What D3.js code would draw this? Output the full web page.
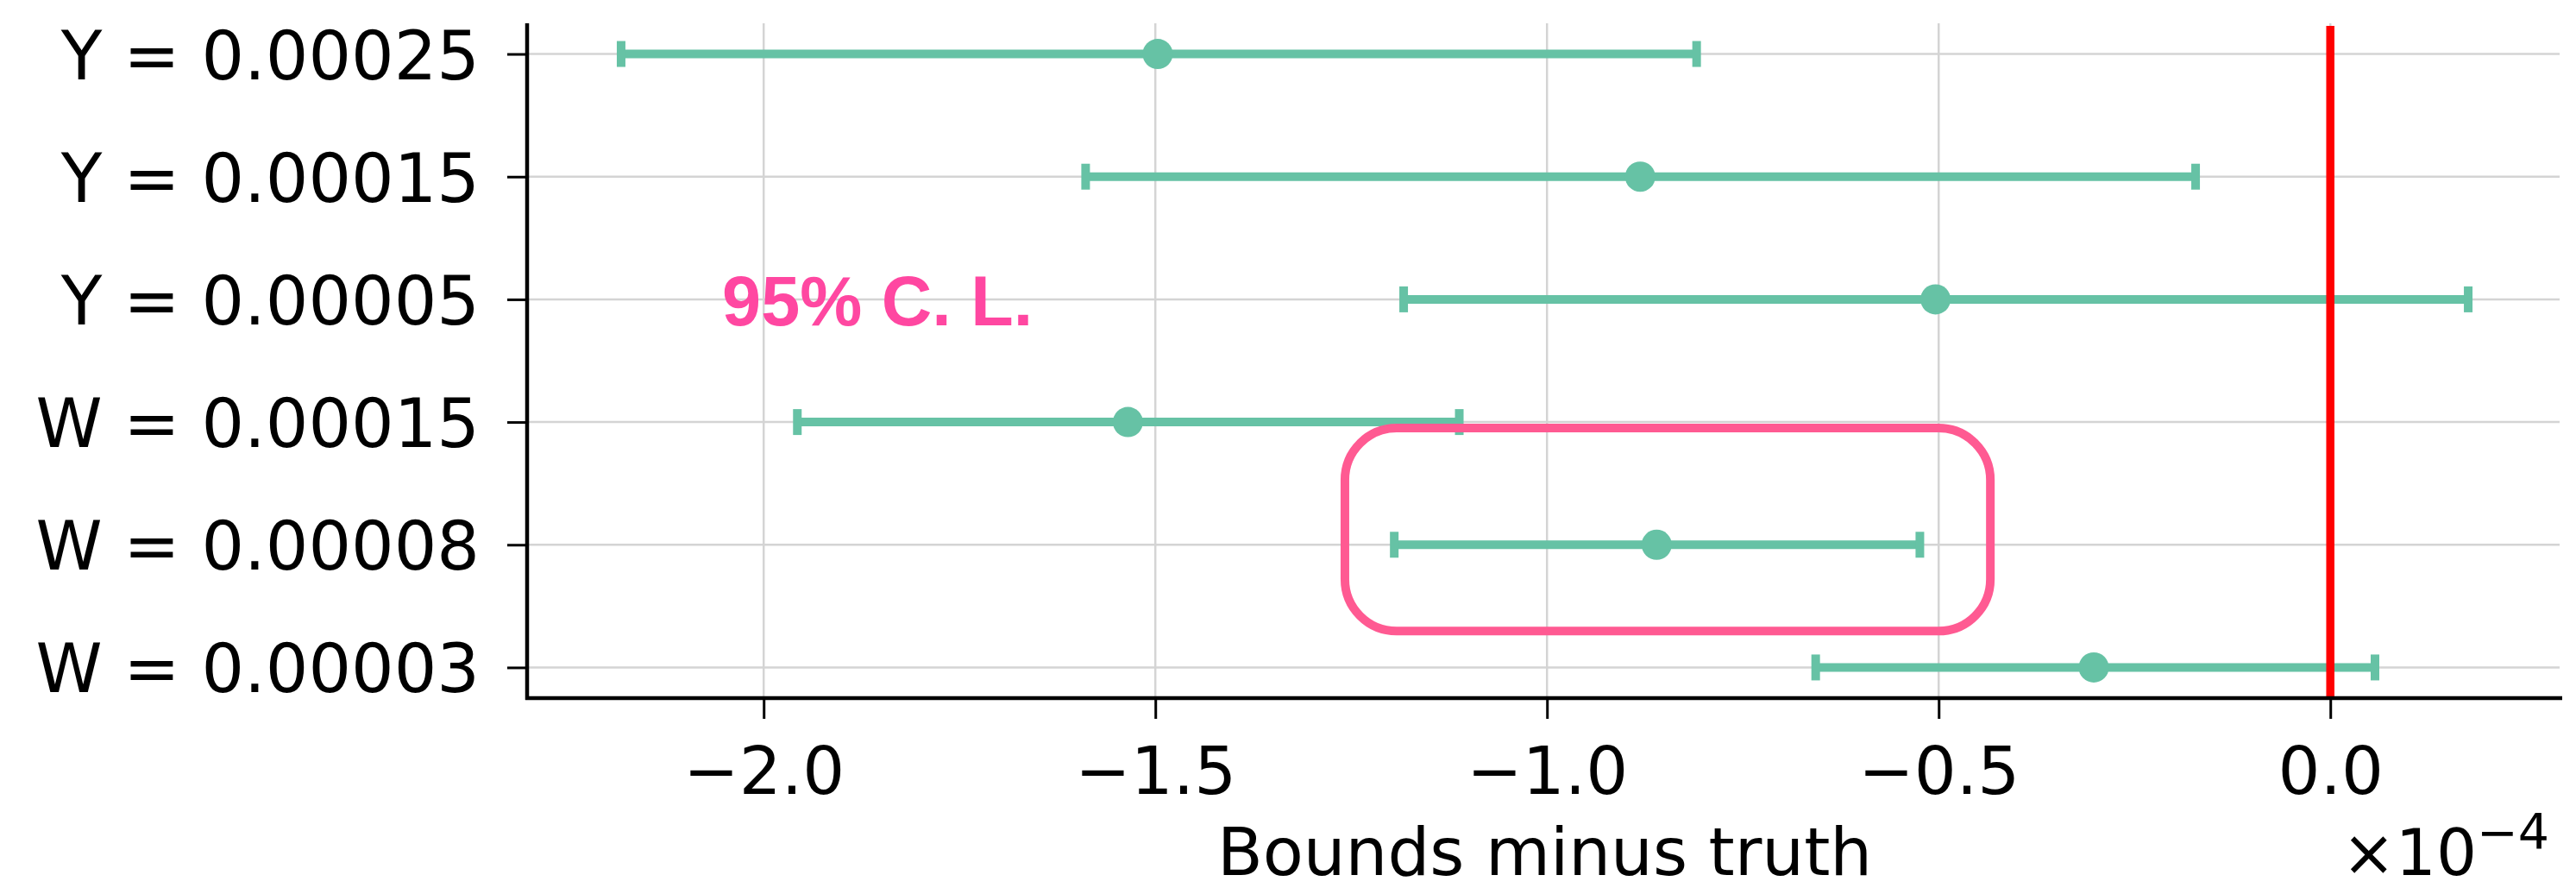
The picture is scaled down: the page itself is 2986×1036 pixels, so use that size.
<!DOCTYPE html>
<html>
<head>
<meta charset="utf-8">
<script src="https://cdn.jsdelivr.net/npm/d3@7"></script>
<style>
  html, body { margin: 0; padding: 0; background: #fff; }
  svg { display: block; }
</style>
</head>
<body>
<svg id="chart" width="2986" height="1036"></svg>
<script>
// ---- data (units of 1e-4) ----
const categories = ["Y = 0.00025", "Y = 0.00015", "Y = 0.00005", "W = 0.00015", "W = 0.00008", "W = 0.00003"];
const lowerBounds = [-2.182, -1.589, -1.183, -1.957, -1.195, -0.657];
const centers     = [-1.497, -0.881, -0.504, -1.535, -0.860, -0.302];
const upperBounds = [-0.809, -0.172,  0.176, -1.112, -0.524,  0.057];
const xTicks = [-2.0, -1.5, -1.0, -0.5, 0.0];
const truthValue = 0.0;
const xLabel = "Bounds minus truth";
const annotationText = "95% C. L.";

(function () {
// ---- layout ----
const svg = d3.select("#chart");
const pLeft = 611, pRight = 2970, pTop = 27, pBottom = 809;
const teal = "#66c2a5";

const x = d3.scaleLinear().domain([-2.302, 0.296]).range([pLeft, pRight]);
const y = d3.scalePoint().domain(categories).range([pTop, pBottom]).padding(0.25);

const rows = categories.map((c, i) => ({ c, lo: lowerBounds[i], mid: centers[i], hi: upperBounds[i] }));

// grid
const grid = svg.append("g");
grid.selectAll("line.v").data(xTicks).join("line")
  .attr("x1", d => x(d)).attr("x2", d => x(d))
  .attr("y1", pTop).attr("y2", pBottom)
  .attr("stroke", "#d4d4d4").attr("stroke-width", 2.5);
grid.selectAll("line.h").data(categories).join("line")
  .attr("x1", pLeft).attr("x2", pRight - 3)
  .attr("y1", d => y(d)).attr("y2", d => y(d))
  .attr("stroke", "#d4d4d4").attr("stroke-width", 2.5);

// error bars
const eb = svg.append("g");
eb.selectAll("line.bar").data(rows).join("line")
  .attr("x1", d => x(d.lo)).attr("x2", d => x(d.hi))
  .attr("y1", d => y(d.c)).attr("y2", d => y(d.c))
  .attr("stroke", teal).attr("stroke-width", 10);
eb.selectAll("line.caplo").data(rows).join("line")
  .attr("x1", d => x(d.lo)).attr("x2", d => x(d.lo))
  .attr("y1", d => y(d.c) - 15).attr("y2", d => y(d.c) + 15)
  .attr("stroke", teal).attr("stroke-width", 10);
eb.selectAll("line.caphi").data(rows).join("line")
  .attr("x1", d => x(d.hi)).attr("x2", d => x(d.hi))
  .attr("y1", d => y(d.c) - 15).attr("y2", d => y(d.c) + 15)
  .attr("stroke", teal).attr("stroke-width", 10);
eb.selectAll("circle").data(rows).join("circle")
  .attr("cx", d => x(d.mid)).attr("cy", d => y(d.c)).attr("r", 17.5)
  .attr("fill", teal);

// truth line
svg.append("line")
  .attr("x1", x(truthValue)).attr("x2", x(truthValue))
  .attr("y1", 30).attr("y2", pBottom)
  .attr("stroke", "#ff0000").attr("stroke-width", 9.5);

// axes
const font = "'DejaVu Sans', sans-serif";
const xAxis = svg.append("g").attr("transform", `translate(0,${pBottom})`)
  .call(d3.axisBottom(x).tickValues(xTicks).tickSize(24).tickPadding(14)
    .tickFormat(d => d3.format(".1f")(d).replace("-", "\u2212")));
xAxis.select(".domain").remove();
xAxis.selectAll(".tick line").attr("stroke", "#000").attr("stroke-width", 3);
xAxis.selectAll(".tick text").attr("font-family", font).attr("font-size", 77).attr("fill", "#000")
  .attr("dy", null).attr("y", 0).attr("transform", "translate(0,111)");

const yAxis = svg.append("g").attr("transform", `translate(${pLeft},0)`)
  .call(d3.axisLeft(y).tickSize(23).tickPadding(32));
yAxis.select(".domain").remove();
yAxis.selectAll(".tick line").attr("stroke", "#000").attr("stroke-width", 3);
yAxis.selectAll(".tick text").attr("font-family", font).attr("font-size", 78).attr("fill", "#000")
  .attr("dy", "0.365em");

// spines
svg.append("line").attr("x1", pLeft).attr("x2", pLeft).attr("y1", pTop).attr("y2", pBottom + 2)
  .attr("stroke", "#000").attr("stroke-width", 4.5);
svg.append("line").attr("x1", pLeft - 2).attr("x2", pRight).attr("y1", pBottom).attr("y2", pBottom)
  .attr("stroke", "#000").attr("stroke-width", 4.5);

// axis label
svg.append("text").attr("x", (pLeft + pRight) / 2).attr("y", 1014)
  .attr("text-anchor", "middle").attr("font-family", font).attr("font-size", 77)
  .attr("fill", "#000").text(xLabel);

// offset text
const off = svg.append("text").attr("x", 2955).attr("y", 1014).attr("text-anchor", "end")
  .attr("font-family", font).attr("font-size", 74).attr("fill", "#000");
off.append("tspan").text("\u00d710");
off.append("tspan").attr("dy", -30).attr("font-size", 57).text("\u22124");

// annotation box & text
const box = { x0: -1.258, x1: -0.434 };
svg.append("rect")
  .attr("x", x(box.x0)).attr("y", y(categories[3]) + 7)
  .attr("width", x(box.x1) - x(box.x0)).attr("height", y(categories[4]) - y(categories[3]) + 100 - 7)
  .attr("rx", 60).attr("ry", 60)
  .attr("fill", "none").attr("stroke", "#ff5a92").attr("stroke-width", 10);

svg.append("text").attr("x", x(-2.053)).attr("y", y(categories[2]) + 30)
  .attr("font-family", "'Liberation Sans', Arial, sans-serif").attr("font-weight", "bold")
  .attr("font-size", 81).attr("fill", "#ff47a1").text(annotationText);
})();
</script>
</body>
</html>
